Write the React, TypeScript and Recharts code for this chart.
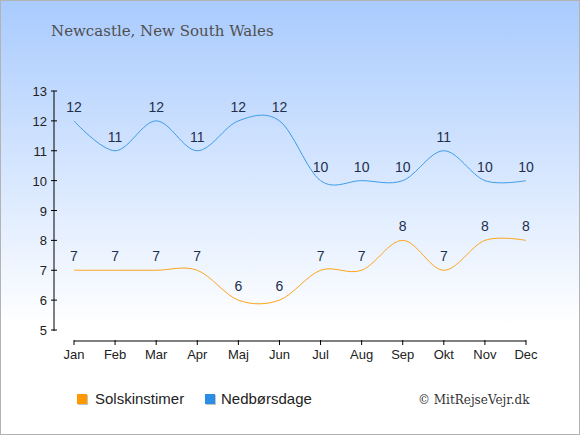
import React from "react";
import { LineChart, Line, XAxis, YAxis, Legend, LabelList } from "recharts";

const months = ["Jan", "Feb", "Mar", "Apr", "Maj", "Jun", "Jul", "Aug", "Sep", "Okt", "Nov", "Dec"];
const sunHours = [7, 7, 7, 7, 6, 6, 7, 7, 8, 7, 8, 8];
const rainDays = [12, 11, 12, 11, 12, 12, 10, 10, 10, 11, 10, 10];
const yTicks = [5, 6, 7, 8, 9, 10, 11, 12, 13];

const data = months.map((m, i) => ({ month: m, sun: sunHours[i], rain: rainDays[i] }));

const SUN = "#ffa31a";
const RAIN = "#3d9be9";
const LABEL = "#1e2f4d";
const SANS = "'Liberation Sans', Arial, sans-serif";
const SERIF = "'DejaVu Serif', Georgia, serif";

// layout in chart coordinates
const AXIS_X = 53;
const AXIS_Y = 341;
const TOP = 90;
const PAD_BOTTOM = 11;

// cardinal spline, tension 0 (same as d3.curveCardinal)
function cardinal(context: any) {
  const k = 1 / 6;
  let x0 = NaN, x1 = NaN, x2 = NaN, y0 = NaN, y1 = NaN, y2 = NaN;
  let pt = 0;
  let line: number = NaN;
  const seg = (x: number, y: number) => {
    context.bezierCurveTo(
      x1 + k * (x2 - x0), y1 + k * (y2 - y0),
      x2 + k * (x1 - x), y2 + k * (y1 - y),
      x2, y2
    );
  };
  return {
    areaStart() { line = 0; },
    areaEnd() { line = NaN; },
    lineStart() { x0 = x1 = x2 = y0 = y1 = y2 = NaN; pt = 0; },
    lineEnd() {
      if (pt === 2) context.lineTo(x2, y2);
      else if (pt === 3) seg(x1, y1);
      if (line || (line !== 0 && pt === 1)) context.closePath();
      line = 1 - line;
    },
    point(x: number, y: number) {
      x = +x; y = +y;
      if (pt === 0) { pt = 1; line ? context.lineTo(x, y) : context.moveTo(x, y); }
      else if (pt === 1) { pt = 2; x1 = x; y1 = y; }
      else { pt = 3; seg(x, y); }
      x0 = x1; x1 = x2; x2 = x;
      y0 = y1; y1 = y2; y2 = y;
    },
  };
}

const YTick = (props: any) => {
  const { y, payload } = props;
  const isTop = payload.value === yTicks[yTicks.length - 1];
  return (
    <g>
      {isTop && (
        <line x1={AXIS_X} x2={AXIS_X} y1={y} y2={AXIS_Y - PAD_BOTTOM} stroke="#000" />
      )}
      <line x1={AXIS_X - 3} x2={AXIS_X + 3} y1={y} y2={y} stroke="#000" />
      <text x={AXIS_X - 7} y={y} dy={5} textAnchor="end" fontSize={13} fontFamily={SANS} fill="#222">
        {payload.value}
      </text>
    </g>
  );
};

const XTick = (props: any) => {
  const { x, payload } = props;
  return (
    <g>
      <line x1={x} x2={x} y1={AXIS_Y - 2} y2={AXIS_Y + 3} stroke="#000" />
      <text x={x} y={AXIS_Y + 17} textAnchor="middle" fontSize={13} fontFamily={SANS} fill="#222">
        {payload.value}
      </text>
    </g>
  );
};

const square = (color: string): React.CSSProperties => ({
  position: "absolute",
  top: 5,
  width: 10,
  height: 10,
  background: color,
  boxShadow: "1px 1px 0 #c4c4c4",
});

const text: React.CSSProperties = {
  position: "absolute",
  top: 1,
  fontFamily: SANS,
  fontSize: 15,
  lineHeight: "18px",
  color: "#222",
};

const LegendContent = () => (
  <div style={{ position: "relative", width: 578, height: 20 }}>
    <div style={{ ...square("#ff9900"), left: 76 }} />
    <div style={{ ...text, left: 94 }}>Solskinstimer</div>
    <div style={{ ...square("#2b8ee6"), left: 204 }} />
    <div style={{ ...text, left: 220 }}>Nedbørsdage</div>
    <div style={{ ...text, left: 417, top: 2, fontFamily: SERIF, fontSize: 12, color: "#333", whiteSpace: "nowrap" }}>
      © MitRejseVejr.dk
    </div>
  </div>
);

export default function App() {
  return (
    <div
      style={{
        position: "absolute",
        left: 0,
        top: 0,
        width: 580,
        height: 435,
        boxSizing: "border-box",
        border: "1px solid #b3b3b3",
        background: "linear-gradient(#a9cbfe 0%, #ffffff 75%)",
      }}
    >
      <div
        style={{
          position: "absolute",
          left: 50,
          top: 21,
          fontFamily: SERIF,
          fontSize: 15,
          color: "#4f4f4f",
          whiteSpace: "nowrap",
        }}
      >
        Newcastle, New South Wales
      </div>
      <LineChart width={578} height={433} data={data} margin={{ top: TOP, right: 53, bottom: 25, left: 0 }}>
        <XAxis
          dataKey="month"
          interval={0}
          height={48}
          axisLine={{ stroke: "#000" }}
          tickLine={false}
          tick={<XTick />}
          padding={{ left: 0, right: 0 }}
        />
        <YAxis
          width={73}
          domain={[5, 13]}
          ticks={yTicks}
          interval={0}
          axisLine={false}
          tickLine={false}
          tick={<YTick />}
          padding={{ top: 0, bottom: PAD_BOTTOM }}
        />
        <Legend verticalAlign="bottom" height={20} content={<LegendContent />} wrapperStyle={{ left: 0, width: 578 }} />
        <Line dataKey="sun" name="Solskinstimer" type={cardinal as any} stroke={SUN} strokeWidth={1} dot={false} isAnimationActive={false}>
          <LabelList dataKey="sun" position="top" offset={9} fontSize={14} fontFamily={SANS} fill={LABEL} />
        </Line>
        <Line dataKey="rain" name="Nedbørsdage" type={cardinal as any} stroke={RAIN} strokeWidth={1} dot={false} isAnimationActive={false}>
          <LabelList dataKey="rain" position="top" offset={9} fontSize={14} fontFamily={SANS} fill={LABEL} />
        </Line>
      </LineChart>
    </div>
  );
}
